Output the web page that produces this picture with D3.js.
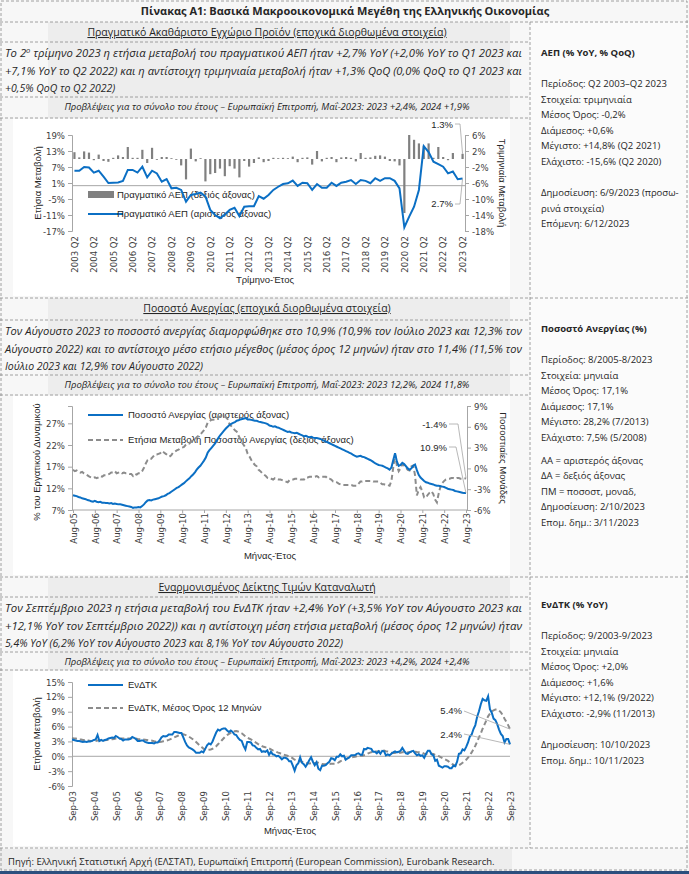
<!DOCTYPE html>
<html>
<head>
<meta charset="utf-8">
<script src="https://cdn.jsdelivr.net/npm/d3@7"></script>
<style>
body { margin:0; background:#fff; }
svg text { font-family: "Open Sans", "Noto Sans", sans-serif; fill:#262626; }
.ax text { font-family: "Liberation Sans Narrow", "DejaVu Sans Condensed", sans-serif; font-size:9.5px; fill:#404040; }
.ax path, .ax line { stroke:#a6a6a6; }
.lg { font-family: "Liberation Sans", "DejaVu Sans", sans-serif; font-size:9.5px; }
</style>
</head>
<body>
<svg id="page" width="689" height="874"></svg>
<script>
// ---- data ----

// ΑΕΠ, τριμηνιαία Q2 2003 - Q2 2023
var gdpQuarters = [];
for (var yr = 2003; yr <= 2023; yr++) {
  for (var q = 1; q <= 4; q++) {
    if ((yr === 2003 && q < 2) || (yr === 2023 && q > 2)) continue;
    gdpQuarters.push(yr + " Q" + q);
  }
}
var gdpTickLabels = ["2003 Q2","2004 Q2","2005 Q2","2006 Q2","2007 Q2","2008 Q2","2009 Q2","2010 Q2","2011 Q2","2012 Q2",
  "2013 Q2","2014 Q2","2015 Q2","2016 Q2","2017 Q2","2018 Q2","2019 Q2","2020 Q2","2021 Q2","2022 Q2","2023 Q2"];
var gdpYoY = [5.6, 5.6, 7.0, 6.8, 4.9, 5.6, 3.4, 1.0, 1.1, 1.2,
  1.8, 5.9, 5.9, 4.9, 7.1, 3.1, 5.6, 4.6, 1.5, 2.5,
  -1.0, -0.8, -1.6, -6.0, -3.5, -3.1, -2.6, -4.0, -9.1, -11.0,
  -12.2, -10.8, -9.1, -8.3, -11.4, -7.9, -7.7, -7.7, -3.9, -4.9,
  -3.5, -1.6, -0.4, 0.6, 0.9, 1.9, -0.1, 1.1, 0.9, -1.6,
  0.6, -0.8, -0.8, 1.1, -0.1, 1.1, 1.5, 2.1, 0.6, 2.1,
  1.8, 0.9, 2.8, 1.8, 2.8, 2.8, 1.8, -1.0, -15.6, -11.6,
  -7.9, -1.6, 14.8, 12.6, 9.0, 8.1, 7.1, 4.6, 5.3, 2.4, 2.7];
var gdpQoQ = [1.7, 0.4, 1.9, 1.6, -0.3, 1.1, -0.5, -0.7, 0.3, 0.9,
  0.5, 3.0, 0.3, 0.3, 2.3, -1.0, 2.8, -0.2, 0.5, 0.5,
  0.2, -0.2, -1.6, -5.1, 2.6, -0.6, 0.2, -5.6, -3.8, -3.5,
  -2.4, -4.3, -1.8, -2.4, -4.6, -0.5, -1.9, -1.0, 0.4, -0.8,
  -0.5, 0.3, 0.2, 0.3, 0.2, 0.6, -0.8, 0.3, 0.4, -1.4,
  2.0, -0.6, 0.3, 0.5, -0.8, 0.4, 0.5, 0.3, -0.6, 1.5,
  0.3, 0.4, 0.8, 0.9, 0.6, -0.5, -0.6, -1.6, -13.5, 6.0,
  4.8, 3.9, 3.3, 3.9, 0.3, 3.0, 0.5, -0.3, 1.5, 0.0, 1.3];

// Ανεργία, μηνιαία 8/2005 - 8/2023
var unempTickLabels = ["Aug-05","Aug-06","Aug-07","Aug-08","Aug-09","Aug-10","Aug-11","Aug-12","Aug-13","Aug-14",
  "Aug-15","Aug-16","Aug-17","Aug-18","Aug-19","Aug-20","Aug-21","Aug-22","Aug-23"];
var unempRate = [10.4, 10.3, 10.2, 10.0, 9.9,
  9.7, 9.6, 9.5, 9.3, 9.2, 9.0, 8.9, 9.1, 8.9, 8.8, 8.9, 8.7,
  8.7, 8.6, 8.6, 8.5, 8.6, 8.4, 8.5, 8.4, 8.3, 8.3, 8.2, 8.1,
  8.0, 7.9, 7.8, 7.7, 7.5, 7.6, 7.6, 7.7, 7.6, 7.9, 8.3, 8.8,
  9.2, 9.3, 9.2, 9.4, 9.5, 9.6, 9.7, 9.9, 10.1, 10.2, 10.4, 10.7,
  10.9, 11.2, 11.5, 11.8, 12.1, 12.3, 12.6, 12.9, 13.2, 13.6, 14.0, 14.3,
  14.8, 15.2, 15.7, 16.3, 16.8, 17.2, 17.8, 18.4, 19.1, 20.2, 20.8, 21.3,
  21.8, 22.3, 23.0, 23.7, 24.3, 24.8, 25.3, 25.8, 26.2, 26.6, 26.9, 27.1,
  27.3, 27.6, 27.7, 27.9, 28.0, 28.1, 28.2, 27.9, 27.9, 27.8, 27.7, 27.6,
  27.6, 27.4, 27.3, 27.2, 27.1, 27.0, 26.8, 26.5, 26.4, 26.2, 26.3, 26.1,
  26.0, 25.8, 25.6, 25.4, 25.2, 25.0, 25.1, 24.9, 24.8, 24.7, 24.8, 24.6,
  24.4, 24.2, 24.0, 24.1, 23.9, 23.8, 23.9, 23.7, 23.6, 23.6, 23.5, 23.4,
  23.2, 23.0, 22.8, 22.6, 22.4, 22.2, 22.0, 21.8, 21.6, 21.4, 21.2, 21.0,
  20.8, 20.6, 20.4, 20.2, 20.0, 19.7, 19.5, 19.3, 19.4, 19.5, 19.3, 19.2,
  19.0, 18.8, 18.6, 18.4, 18.1, 17.8, 17.6, 17.4, 17.3, 17.2, 17.0, 16.8,
  16.6, 16.3, 16.8, 18.5, 20.1, 18.2, 17.2, 17.4, 17.9, 17.6, 17.1, 16.6,
  16.3, 16.6, 17.2, 17.5, 16.2, 15.1, 14.5, 14.1, 13.7, 13.4, 13.3, 13.1,
  13.0, 12.9, 12.7, 12.6, 12.6, 12.5, 12.4, 12.3, 12.1, 11.9, 11.8, 11.7,
  11.6, 11.4, 11.3, 11.2, 11.1, 11.0, 10.9, 10.9];
var unempChange = [-0.2, -0.4, -0.3, -0.5, -0.6,
  -0.5, -0.7, -0.8, -1.0, -1.2, -1.3, -1.4, -1.3, -1.4, -1.3, -1.1, -1.2,
  -1.0, -1.0, -0.9, -0.8, -0.6, -0.6, -0.4, -0.7, -0.6, -0.5, -0.7, -0.6,
  -0.7, -0.7, -0.8, -0.8, -1.1, -0.8, -0.9, -0.7, -0.7, -0.4, 0.1, 0.7,
  1.2, 1.4, 1.4, 1.7, 2.0, 2.0, 2.1, 2.2, 2.5, 2.3, 2.1, 1.9,
  1.7, 1.9, 2.3, 2.4, 2.6, 2.7, 2.9, 3.0, 3.1, 3.4, 3.6, 3.6,
  3.9, 4.0, 4.2, 4.5, 4.7, 4.9, 5.2, 5.5, 5.9, 6.6, 6.8, 7.0,
  7.0, 7.1, 7.3, 7.4, 7.5, 7.6, 7.5, 7.4, 7.1, 6.4, 6.1, 5.8,
  5.5, 5.3, 4.7, 4.2, 3.7, 3.3, 2.9, 2.1, 1.7, 1.2, 0.8, 0.5,
  0.3, -0.2, -0.4, -0.7, -0.9, -1.1, -1.4, -1.4, -1.5, -1.6, -1.4, -1.5,
  -1.6, -1.6, -1.7, -1.8, -1.9, -2.0, -1.7, -1.6, -1.6, -1.5, -1.5, -1.5,
  -1.6, -1.6, -1.6, -1.3, -1.3, -1.2, -1.2, -1.2, -1.2, -1.1, -1.3, -1.2,
  -1.2, -1.2, -1.2, -1.5, -1.5, -1.6, -1.9, -1.9, -2.0, -2.2, -2.3, -2.4,
  -2.4, -2.4, -2.4, -2.4, -2.4, -2.5, -2.5, -2.5, -2.2, -1.9, -1.9, -1.8,
  -1.8, -1.8, -1.8, -1.8, -1.9, -1.9, -1.9, -1.9, -2.1, -2.3, -2.3, -2.4,
  -2.4, -2.5, -1.8, 0.1, 2.0, 0.4, -0.4, 0.0, 0.6, 0.4, 0.1, -0.2,
  -0.3, 0.3, 0.4, -1.0, -3.9, -3.1, -2.7, -3.3, -4.2, -4.2, -3.8, -3.5,
  -3.3, -3.7, -4.5, -4.9, -3.6, -2.6, -2.1, -1.8, -1.6, -1.5, -1.5, -1.4,
  -1.4, -1.5, -1.4, -1.4, -1.5, -1.5, -1.5, -1.4];

// ΕνΔΤΚ, μηνιαία 9/2003 - 9/2023
var hicpTickLabels = ["Sep-03","Sep-04","Sep-05","Sep-06","Sep-07","Sep-08","Sep-09","Sep-10","Sep-11","Sep-12",
  "Sep-13","Sep-14","Sep-15","Sep-16","Sep-17","Sep-18","Sep-19","Sep-20","Sep-21","Sep-22","Sep-23"];
var hicp = [3.4, 3.3, 3.2, 3.1,
  3.1, 3.0, 2.9, 3.0, 2.9, 3.0, 3.0, 3.1, 3.3, 3.4, 4.3, 3.1,
  3.3, 3.1, 3.3, 3.4, 3.6, 3.7, 3.8, 3.7, 4.1, 3.9, 3.6, 3.5,
  3.2, 3.4, 3.4, 3.4, 3.5, 3.9, 3.7, 3.5, 3.1, 3.1, 3.2, 3.2,
  2.9, 2.8, 2.7, 2.7, 2.7, 2.6, 2.8, 2.8, 3.2, 3.8, 4.1, 4.0,
  4.1, 4.4, 4.4, 4.4, 4.9, 4.9, 4.8, 4.7, 4.7, 3.8, 2.9, 2.2,
  1.8, 1.6, 1.4, 1.1, 0.7, 0.7, 0.7, 1.0, 0.8, 1.5, 2.2, 2.6,
  2.4, 3.0, 3.9, 4.8, 5.4, 5.2, 5.5, 5.6, 5.6, 5.2, 4.9, 5.2,
  4.9, 4.4, 4.3, 3.7, 3.3, 3.1, 2.1, 1.4, 2.9, 2.9, 2.8, 2.2,
  2.1, 1.7, 1.4, 1.5, 0.9, 1.0, 0.9, 1.2, 0.3, 0.9, 0.4, 0.3,
  0.0, 0.1, -0.2, -0.6, -0.3, -0.3, -0.5, -1.0, -1.0, -1.9, -2.9, -1.8,
  -1.4, -0.2, -1.3, -1.6, -2.1, -1.5, -0.8, -0.2, -1.1, -1.8, -1.2, -2.5,
  -2.8, -1.9, -1.9, -1.8, -1.4, -1.1, -0.4, -0.5, -0.8, -0.1, -0.1, 0.4,
  0.0, 0.1, -0.7, -0.4, -0.2, 0.2, 0.2, 0.2, 0.5, 0.6, 0.3, 0.3,
  1.5, 1.4, 1.7, 1.6, 1.5, 0.9, 0.9, 0.6, 1.0, 0.5, 1.1, 1.0,
  0.2, 0.4, 0.2, 0.5, 0.8, 1.0, 0.8, 0.9, 1.1, 1.7, 1.1, 0.6,
  0.5, 0.8, 1.0, 1.1, 0.6, 0.2, 0.4, 0.1, 0.2, -0.3, 0.5, 1.1,
  1.1, 0.4, 0.2, -0.9, -0.7, -1.9, -2.1, -2.3, -2.0, -2.0, -2.1, -2.4,
  -2.4, -1.9, -2.0, -1.1, 0.5, 0.6, 1.4, 1.2, 1.9, 2.8, 4.0, 4.4,
  5.5, 6.3, 8.0, 9.1, 10.5, 11.6, 11.3, 11.2, 12.1, 9.5, 8.8, 7.6,
  7.3, 6.5, 5.4, 4.5, 4.1, 2.8, 3.5, 3.5, 2.4];
var hicpAvg12 = [3.7, 3.6, 3.6, 3.5,
  3.4, 3.4, 3.3, 3.3, 3.2, 3.2, 3.1, 3.1, 3.08, 3.08, 3.18, 3.18,
  3.19, 3.20, 3.23, 3.27, 3.33, 3.38, 3.45, 3.50, 3.57, 3.61, 3.55, 3.58,
  3.58, 3.60, 3.61, 3.61, 3.60, 3.62, 3.61, 3.59, 3.51, 3.44, 3.41, 3.38,
  3.36, 3.31, 3.25, 3.19, 3.13, 3.02, 2.94, 2.88, 2.89, 2.95, 3.03, 3.09,
  3.19, 3.32, 3.47, 3.61, 3.79, 3.98, 4.15, 4.31, 4.43, 4.43, 4.33, 4.18,
  3.99, 3.75, 3.50, 3.23, 2.88, 2.53, 2.18, 1.88, 1.55, 1.36, 1.30, 1.34,
  1.39, 1.51, 1.72, 2.03, 2.42, 2.79, 3.19, 3.58, 3.98, 4.28, 4.51, 4.73,
  4.93, 5.05, 5.08, 4.99, 4.82, 4.64, 4.36, 4.01, 3.78, 3.59, 3.42, 3.17,
  2.93, 2.71, 2.47, 2.28, 2.08, 1.91, 1.81, 1.79, 1.58, 1.41, 1.21, 1.05,
  0.88, 0.74, 0.61, 0.43, 0.33, 0.23, 0.11, -0.07, -0.18, -0.42, -0.69, -0.87,
  -0.98, -1.01, -1.10, -1.18, -1.33, -1.43, -1.46, -1.39, -1.40, -1.39, -1.25, -1.31,
  -1.43, -1.57, -1.62, -1.63, -1.58, -1.54, -1.51, -1.53, -1.51, -1.37, -1.28, -1.03,
  -0.80, -0.63, -0.53, -0.42, -0.32, -0.21, -0.16, -0.10, 0.01, 0.07, 0.10, 0.09,
  0.22, 0.33, 0.53, 0.69, 0.83, 0.89, 0.95, 0.98, 1.03, 1.02, 1.08, 1.14,
  1.03, 0.95, 0.82, 0.73, 0.67, 0.68, 0.67, 0.70, 0.70, 0.80, 0.80, 0.78,
  0.80, 0.83, 0.90, 0.95, 0.93, 0.87, 0.83, 0.77, 0.69, 0.53, 0.48, 0.52,
  0.57, 0.53, 0.47, 0.30, 0.19, 0.02, -0.19, -0.39, -0.57, -0.72, -0.93, -1.23,
  -1.52, -1.71, -1.89, -1.91, -1.81, -1.60, -1.31, -1.02, -0.69, -0.29, 0.22, 0.78,
  1.44, 2.13, 2.96, 3.81, 4.64, 5.56, 6.38, 7.22, 8.07, 8.62, 9.02, 9.29,
  9.44, 9.46, 9.24, 8.86, 8.33, 7.59, 6.94, 6.30, 5.49];

// ---- texts ----
var title = "Πίνακας Α1: Βασικά Μακροοικονομικά Μεγέθη της Ελληνικής Οικονομίας";
var heads = ["Πραγματικό Ακαθάριστο Εγχώριο Προϊόν (εποχικά διορθωμένα στοιχεία)",
  "Ποσοστό Ανεργίας (εποχικά διορθωμένα στοιχεία)",
  "Εναρμονισμένος Δείκτης Τιμών Καταναλωτή"];
var bodies = [
  ["Το 2|ο| τρίμηνο 2023 η ετήσια μεταβολή του πραγματικού ΑΕΠ ήταν +2,7% YoY (+2,0% YoY το Q1 2023 και",
   "+7,1% YoY το Q2 2022) και η αντίστοιχη τριμηνιαία μεταβολή ήταν +1,3% QoQ (0,0% QoQ το Q1 2023 και",
   "+0,5% QoQ το Q2 2022)"],
  ["Τον Αύγουστο 2023 το ποσοστό ανεργίας διαμορφώθηκε στο 10,9% (10,9% τον Ιούλιο 2023 και 12,3% τον",
   "Αύγουστο 2022) και το αντίστοιχο μέσο ετήσιο μέγεθος (μέσος όρος 12 μηνών) ήταν στο 11,4% (11,5% τον",
   "Ιούλιο 2023 και 12,9% τον Αύγουστο 2022)"],
  ["Τον Σεπτέμβριο 2023 η ετήσια μεταβολή του ΕνΔΤΚ ήταν +2,4% YoY (+3,5% YoY τον Αύγουστο 2023 και",
   "+12,1% YoY τον Σεπτέμβριο 2022)) και η αντίστοιχη μέση ετήσια μεταβολή (μέσος όρος 12 μηνών) ήταν",
   "5,4% YoY (6,2% YoY τον Αύγουστο 2023 και 8,1% YoY τον Αύγουστο 2022)"]];
var forecasts = ["Προβλέψεις για το σύνολο του έτους – Ευρωπαϊκή Επιτροπή, Μαΐ-2023: 2023 +2,4%, 2024 +1,9%",
  "Προβλέψεις για το σύνολο του έτους – Ευρωπαϊκή Επιτροπή, Μαΐ-2023: 2023 12,2%, 2024 11,8%",
  "Προβλέψεις για το σύνολο του έτους – Ευρωπαϊκή Επιτροπή, Μαΐ-2023: 2023 +4,2%, 2024 +2,4%"];
var sideTitles = ["ΑΕΠ (% YoY, % QoQ)", "Ποσοστό Ανεργίας (%)", "ΕνΔΤΚ (% YoY)"];
var sideLines = [
  ["Περίοδος: Q2 2003–Q2 2023","Στοιχεία: τριμηνιαία","Μέσος Όρος: -0,2%","Διάμεσος: +0,6%",
   "Μέγιστο: +14,8% (Q2 2021)","Ελάχιστο: -15,6% (Q2 2020)","","Δημοσίευση: 6/9/2023 (προσω-","ρινά στοιχεία)","Επόμενη: 6/12/2023"],
  ["Περίοδος: 8/2005-8/2023","Στοιχεία: μηνιαία","Μέσος Όρος: 17,1%","Διάμεσος: 17,1%",
   "Μέγιστο: 28,2% (7/2013)","Ελάχιστο: 7,5% (5/2008)","ΑΑ = αριστερός άξονας","ΔΑ = δεξιός άξονας",
   "ΠΜ = ποσοστ, μοναδ,","Δημοσίευση: 2/10/2023","Επομ. δημ.: 3/11/2023"],
  ["Περίοδος: 9/2003-9/2023","Στοιχεία: μηνιαία","Μέσος Όρος: +2,0%","Διάμεσος: +1,6%",
   "Μέγιστο: +12,1% (9/2022)","Ελάχιστο: -2,9% (11/2013)","","Δημοσίευση: 10/10/2023","Επομ. δημ.: 10/11/2023"]];
var source = "Πηγή: Ελληνική Στατιστική Αρχή (ΕΛΣΤΑΤ), Ευρωπαϊκή Επιτροπή (European Commission), Eurobank Research.";

// ---- layout ----
var W = 689, H = 874, DIV = 530;
var BLUE = "#0b6fc4", GREY = "#808080";
var svg = d3.select("#page");

var sec = [
  {head: 22, text: 42, fc: 97, chart: 118, end: 298, side: 56, sideStart: 87},
  {head: 298, text: 320, fc: 375, chart: 395, end: 577, side: 332, sideStart: 363},
  {head: 577, text: 597, fc: 652, chart: 670, end: 848, side: 608, sideStart: 639}
];

svg.append("rect").attr("width", W).attr("height", H).attr("fill", "#f7f7f7");
svg.append("rect").attr("x", DIV).attr("y", 22).attr("width", W - DIV).attr("height", 826).attr("fill", "#fbfbfb");

function hline(x1, x2, y) {
  svg.append("line").attr("x1", x1).attr("x2", x2).attr("y1", y).attr("y2", y)
    .attr("stroke", "#8a8a8a").attr("stroke-width", 0.8).attr("stroke-dasharray", "3,2");
}
function vline(x, y1, y2) {
  svg.append("line").attr("x1", x).attr("x2", x).attr("y1", y1).attr("y2", y2)
    .attr("stroke", "#8a8a8a").attr("stroke-width", 0.8).attr("stroke-dasharray", "3,2");
}

sec.forEach(function(s, k) {
  svg.append("rect").attr("x", 48).attr("y", s.head).attr("width", 462).attr("height", s.chart - s.head).attr("fill", "#ededed");
  svg.append("rect").attr("x", 13).attr("y", s.chart + 1).attr("width", 497).attr("height", s.end - s.chart - 3).attr("fill", "#fff");

  svg.append("text").attr("x", 267).attr("y", s.head + 14).attr("text-anchor", "middle")
    .attr("font-size", 10.5).style("text-decoration", "underline").text(heads[k]);

  bodies[k].forEach(function(line, j) {
    var t = svg.append("text").attr("x", 5).attr("y", s.text + 15 + j * 17.5)
      .attr("font-size", 10.5).attr("font-style", "italic").attr("fill", "#262626");
    if (j < 2) t.attr("textLength", 517).attr("lengthAdjust", "spacingAndGlyphs");
    line.split("|").forEach(function(part, p) {
      var ts = t.append("tspan").text(part);
      if (p === 1) ts.attr("font-size", 7).attr("baseline-shift", "super");
    });
  });

  svg.append("text").attr("x", 267).attr("y", s.fc + 13).attr("text-anchor", "middle")
    .attr("font-size", 9.5).attr("font-style", "italic").attr("fill", "#1f2d4d").text(forecasts[k]);

  svg.append("text").attr("x", 541).attr("y", s.side).attr("font-size", 9.5).attr("font-weight", "bold").text(sideTitles[k]);
  var yy = s.sideStart;
  sideLines[k].forEach(function(line, j) {
    if (k === 1 && j === 6) yy += 7;
    svg.append("text").attr("x", 541).attr("y", yy).attr("font-size", 9.5).text(line);
    yy += 15.6;
  });

  hline(0, DIV, s.text);
  hline(0, DIV, s.fc);
  hline(0, DIV, s.chart);
});

svg.append("text").attr("x", 345).attr("y", 15).attr("text-anchor", "middle")
  .attr("font-size", 11).attr("font-weight", "bold").text(title);

svg.append("rect").attr("x", 0).attr("y", 849).attr("width", 512).attr("height", 22).attr("fill", "#ededed");
svg.append("text").attr("x", 8).attr("y", 865).attr("font-size", 9.5).text(source);

hline(0, W, 22); hline(0, W, 298); hline(0, W, 577); hline(0, W, 848);
vline(DIV, 22, 848);
svg.append("rect").attr("x", 1).attr("y", 1).attr("width", W - 3).attr("height", 869).attr("fill", "none")
  .attr("stroke", "#8a8a8a").attr("stroke-width", 0.8).attr("stroke-dasharray", "3,2");
svg.append("rect").attr("x", 0).attr("y", 871).attr("width", W).attr("height", 3).attr("fill", "#2b4f7e");

function pct(d) { return d + "%"; }
function rotLabels(g) {
  g.select(".domain").remove();
  g.selectAll("text").attr("transform", "rotate(-90)").attr("text-anchor", "end")
    .attr("x", -3).attr("y", 0).attr("dy", "0.35em");
}
function legendLine(g, x, y, dashed, label) {
  g.append("line").attr("x1", x).attr("x2", x + 35).attr("y1", y).attr("y2", y)
    .attr("stroke", dashed ? "#8c8c8c" : BLUE).attr("stroke-width", 2.2)
    .attr("stroke-dasharray", dashed ? "5,3" : null);
  g.append("text").attr("class", "lg").attr("x", x + 40).attr("y", y).attr("dy", "0.35em").text(label);
}
function axTitle(g, x, y, rot, label) {
  g.append("text").attr("class", "lg").attr("font-size", 10)
    .attr("transform", "translate(" + x + "," + y + ") rotate(" + rot + ")")
    .attr("text-anchor", "middle").attr("dy", "0.35em").text(label);
}
function leader(g, pts) {
  g.append("polyline").attr("points", pts.map(function(p){ return p.join(","); }).join(" "))
    .attr("fill", "none").attr("stroke", "#a6a6a6").attr("stroke-width", 0.8);
}

// ---- chart 1: ΑΕΠ ----
var x1 = d3.scaleBand().domain(gdpQuarters).range([72, 465]);
var y1L = d3.scaleLinear().domain([-17, 19]).range([231, 135]);
var y1R = d3.scaleLinear().domain([-18, 6]).range([231, 135]);
var g1 = svg.append("g");

g1.append("g").attr("class", "ax").attr("transform", "translate(72,0)")
  .call(d3.axisLeft(y1L).tickValues([-17, -11, -5, 1, 7, 13, 19]).tickFormat(pct).tickSize(4));
g1.append("g").attr("class", "ax").attr("transform", "translate(465,0)")
  .call(d3.axisRight(y1R).tickValues([-18, -14, -10, -6, -2, 2, 6]).tickFormat(pct).tickSize(4));
g1.append("g").attr("class", "ax").attr("transform", "translate(0,233)")
  .call(d3.axisBottom(x1).tickValues(gdpTickLabels).tickSize(0)).call(rotLabels);
g1.append("line").attr("x1", 72).attr("x2", 465).attr("y1", y1L(0)).attr("y2", y1L(0)).attr("stroke", "#a6a6a6");

g1.selectAll("rect.bar").data(gdpQoQ).enter().append("rect").attr("class", "bar")
  .attr("x", function(d, i){ return x1(gdpQuarters[i]) + x1.bandwidth() / 2 - 1.1; })
  .attr("width", 2.2)
  .attr("y", function(d){ return Math.min(y1R(0), y1R(d)); })
  .attr("height", function(d){ return Math.abs(y1R(d) - y1R(0)); })
  .attr("fill", GREY);

g1.append("rect").attr("x", 88).attr("y", 191).attr("width", 26).attr("height", 7).attr("fill", GREY);
g1.append("text").attr("class", "lg").attr("x", 117).attr("y", 194.5).attr("dy", "0.35em").text("Πραγματικό ΑΕΠ (δεξιός άξονας)");
legendLine(g1, 88, 214, false, "");
g1.select("line:last-of-type");
g1.append("text").attr("class", "lg").attr("x", 117).attr("y", 214).attr("dy", "0.35em").text("Πραγματικό ΑΕΠ (αριστερός άξονας)");

g1.append("path").datum(gdpYoY)
  .attr("d", d3.line().x(function(d, i){ return x1(gdpQuarters[i]) + x1.bandwidth() / 2; }).y(function(d){ return y1L(d); }))
  .attr("fill", "none").attr("stroke", BLUE).attr("stroke-width", 2);

var last1 = x1(gdpQuarters[80]) + x1.bandwidth() / 2;
g1.append("text").attr("class", "ax").attr("x", 453).attr("y", 128).attr("text-anchor", "end")
  .style("font-family", "'Liberation Sans Narrow', sans-serif").attr("font-size", 9.5).attr("fill", "#404040").text(gdpQoQ[80].toFixed(1) + "%");
leader(g1, [[455, 124], [460, 124], [last1, y1R(gdpQoQ[80])]]);
g1.append("text").attr("x", 453).attr("y", 207).attr("text-anchor", "end")
  .style("font-family", "'Liberation Sans Narrow', sans-serif").attr("font-size", 9.5).attr("fill", "#404040").text(gdpYoY[80].toFixed(1) + "%");
leader(g1, [[455, 204], [460, 204], [last1, y1L(gdpYoY[80])]]);

axTitle(g1, 38, 183, -90, "Ετήσια Μεταβολή");
axTitle(g1, 502, 183, 90, "Τριμηνιαία Μεταβολή");
g1.append("text").attr("class", "lg").attr("font-size", 10).attr("x", 265).attr("y", 283).attr("text-anchor", "middle").text("Τρίμηνο-Έτος");

// ---- chart 2: Ανεργία ----
var x2 = d3.scaleLinear().domain([0, unempRate.length - 1]).range([73, 466]);
var y2L = d3.scaleLinear().domain([7, 31]).range([510, 406]);
var y2R = d3.scaleLinear().domain([-6, 9]).range([510, 406]);
var g2 = svg.append("g");

g2.append("g").attr("class", "ax").attr("transform", "translate(72,0)")
  .call(d3.axisLeft(y2L).tickValues([7, 12, 17, 22, 27]).tickFormat(pct).tickSize(4));
g2.append("g").attr("class", "ax").attr("transform", "translate(467,0)")
  .call(d3.axisRight(y2R).tickValues([-6, -3, 0, 3, 6, 9]).tickFormat(pct).tickSize(4));
g2.append("line").attr("x1", 72).attr("x2", 467).attr("y1", 510).attr("y2", 510).attr("stroke", "#a6a6a6");
g2.append("g").attr("class", "ax").attr("transform", "translate(0,510)")
  .call(d3.axisBottom(x2).tickValues(d3.range(0, unempRate.length, 12)).tickFormat(function(d, i){ return unempTickLabels[i]; }).tickSize(3))
  .call(rotLabels);

legendLine(g2, 88, 415, false, "Ποσοστό Ανεργίας (αριστερός άξονας)");
legendLine(g2, 88, 440, true, "Ετήσια Μεταβολή Ποσοστού Ανεργίας (δεξιός άξονας)");

g2.append("path").datum(unempChange)
  .attr("d", d3.line().x(function(d, i){ return x2(i); }).y(function(d){ return y2R(d); }))
  .attr("fill", "none").attr("stroke", "#8c8c8c").attr("stroke-width", 2).attr("stroke-dasharray", "5,3");
g2.append("path").datum(unempRate)
  .attr("d", d3.line().x(function(d, i){ return x2(i); }).y(function(d){ return y2L(d); }))
  .attr("fill", "none").attr("stroke", BLUE).attr("stroke-width", 2);

var n2 = unempRate.length - 1;
g2.append("text").attr("x", 447).attr("y", 428).attr("text-anchor", "end")
  .style("font-family", "'Liberation Sans Narrow', sans-serif").attr("font-size", 9.5).attr("fill", "#404040").text(unempChange[n2].toFixed(1) + "%");
leader(g2, [[449, 424], [458, 424], [x2(n2), y2R(unempChange[n2])]]);
g2.append("text").attr("x", 447).attr("y", 451).attr("text-anchor", "end")
  .style("font-family", "'Liberation Sans Narrow', sans-serif").attr("font-size", 9.5).attr("fill", "#404040").text(unempRate[n2].toFixed(1) + "%");
leader(g2, [[449, 447], [456, 447], [x2(n2), y2L(unempRate[n2])]]);

axTitle(g2, 37, 462, -90, "% του Εργατικού Δυναμικού");
axTitle(g2, 503, 458, 90, "Ποσοστιαίες Μονάδες");
g2.append("text").attr("class", "lg").attr("font-size", 10).attr("x", 270).attr("y", 559).attr("text-anchor", "middle").text("Μήνας-Έτος");

// ---- chart 3: ΕνΔΤΚ ----
var x3 = d3.scaleLinear().domain([0, hicp.length - 1]).range([72, 510]);
var y3 = d3.scaleLinear().domain([-6, 15]).range([786, 682]);
var g3 = svg.append("g");

g3.append("g").attr("class", "ax").attr("transform", "translate(72,0)")
  .call(d3.axisLeft(y3).tickValues([-6, -3, 0, 3, 6, 9, 12, 15]).tickFormat(pct).tickSize(4));
g3.append("line").attr("x1", 72).attr("x2", 510).attr("y1", y3(0)).attr("y2", y3(0)).attr("stroke", "#a6a6a6");
g3.append("g").attr("class", "ax").attr("transform", "translate(0,788)")
  .call(d3.axisBottom(x3).tickValues(d3.range(0, hicp.length, 12)).tickFormat(function(d, i){ return hicpTickLabels[i]; }).tickSize(0))
  .call(rotLabels);

legendLine(g3, 88, 685, false, "ΕνΔΤΚ");
legendLine(g3, 88, 708, true, "ΕνΔΤΚ, Μέσος Όρος 12 Μηνών");

g3.append("path").datum(hicpAvg12)
  .attr("d", d3.line().x(function(d, i){ return x3(i); }).y(function(d){ return y3(d); }))
  .attr("fill", "none").attr("stroke", "#8c8c8c").attr("stroke-width", 2).attr("stroke-dasharray", "5,3");
g3.append("path").datum(hicp)
  .attr("d", d3.line().x(function(d, i){ return x3(i); }).y(function(d){ return y3(d); }))
  .attr("fill", "none").attr("stroke", BLUE).attr("stroke-width", 2);

var n3 = hicp.length - 1;
g3.append("text").attr("x", 462).attr("y", 714).attr("text-anchor", "end")
  .style("font-family", "'Liberation Sans Narrow', sans-serif").attr("font-size", 9.5).attr("fill", "#404040").text("5.4%");
leader(g3, [[464, 711], [x3(n3), y3(hicpAvg12[n3])]]);
g3.append("text").attr("x", 462).attr("y", 738).attr("text-anchor", "end")
  .style("font-family", "'Liberation Sans Narrow', sans-serif").attr("font-size", 9.5).attr("fill", "#404040").text(hicp[n3].toFixed(1) + "%");
leader(g3, [[464, 734], [x3(n3), y3(hicp[n3])]]);

axTitle(g3, 37, 734, -90, "Ετήσια Μεταβολή");
g3.append("text").attr("class", "lg").attr("font-size", 10).attr("x", 290).attr("y", 834).attr("text-anchor", "middle").text("Μήνας-Έτος");
</script>
</body>
</html>
